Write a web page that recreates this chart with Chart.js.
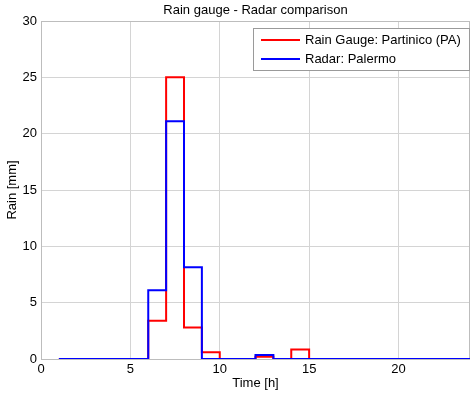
<!DOCTYPE html>
<html>
<head>
<meta charset="utf-8">
<script src="https://cdn.jsdelivr.net/npm/chart.js@4"></script>
<style>
  html, body { margin: 0; padding: 0; background: #fff; }
  #wrap { width: 473px; height: 396px; }
</style>
</head>
<body>
<div id="wrap"><canvas id="chart" width="473" height="396"></canvas></div>
<script>
const hours = [1, 2, 3, 4, 5, 6, 7, 8, 9, 10, 11, 12, 13, 14, 15, 16, 17, 18, 19, 20, 21, 22, 23, 24];
const gaugeMm = [0, 0, 0, 0, 0, 3.4, 25, 2.8, 0.6, 0, 0, 0.2, 0, 0.85, 0, 0, 0, 0, 0, 0, 0, 0, 0, 0];
const radarMm = [0, 0, 0, 0, 0, 6.1, 21.1, 8.15, 0, 0, 0, 0.35, 0, 0, 0, 0, 0, 0, 0, 0, 0, 0, 0, 0];
const xTicks = [0, 5, 10, 15, 20];
const yTicks = [0, 5, 10, 15, 20, 25, 30];
const chartTitle = 'Rain gauge - Radar comparison';

const FONT = 'Liberation Sans, Arial, sans-serif';

// matlab-style box, title over the axes and legend inside them
const boxLegend = {
  id: 'boxLegend',
  beforeDatasetsDraw(chart) {
    const a = chart.chartArea, ctx = chart.ctx;
    ctx.save();
    ctx.strokeStyle = '#bdbdbd';
    ctx.lineWidth = 1;
    ctx.strokeRect(Math.round(a.left) + 0.5, Math.round(a.top) + 0.5,
      Math.round(a.right - a.left) - 1, Math.round(a.bottom - a.top));
    ctx.fillStyle = '#000';
    ctx.font = '13px ' + FONT;
    ctx.textAlign = 'center';
    ctx.textBaseline = 'middle';
    ctx.fillText(chartTitle, (a.left + a.right) / 2, 10);
    ctx.restore();
  },
  afterDraw(chart) {
    const ctx = chart.ctx;
    const ds = chart.data.datasets;
    const x0 = 253, y0 = 28, w = 216, h = 42;
    ctx.save();
    ctx.fillStyle = '#fff';
    ctx.fillRect(x0, y0, w, h);
    ctx.strokeStyle = '#9a9a9a';
    ctx.lineWidth = 1;
    ctx.strokeRect(x0 + 0.5, y0 + 0.5, w, h);
    ctx.font = '13px ' + FONT;
    ctx.textBaseline = 'middle';
    ds.forEach((d, i) => {
      const y = y0 + 12 + i * 19;
      ctx.strokeStyle = d.borderColor;
      ctx.lineWidth = 2;
      ctx.beginPath();
      ctx.moveTo(x0 + 8, y);
      ctx.lineTo(x0 + 47, y);
      ctx.stroke();
      ctx.fillStyle = '#000';
      ctx.fillText(d.label, x0 + 52, y);
    });
    ctx.restore();
  }
};

new Chart(document.getElementById('chart'), {
  type: 'line',
  data: {
    datasets: [
      {
        label: 'Rain Gauge: Partinico (PA)',
        data: hours.map((h, i) => ({ x: h, y: gaugeMm[i] })),
        borderColor: '#ff0000',
        borderWidth: 2,
        stepped: 'before',
        pointRadius: 0,
        fill: false,
        order: 1
      },
      {
        label: 'Radar: Palermo',
        data: hours.map((h, i) => ({ x: h, y: radarMm[i] })),
        borderColor: '#0000ff',
        borderWidth: 2,
        stepped: 'before',
        pointRadius: 0,
        fill: false,
        order: 0
      }
    ]
  },
  options: {
    responsive: false,
    animation: false,
    layout: { padding: { left: 0, right: 3, top: 21, bottom: 0 } },
    plugins: {
      legend: { display: false },
      tooltip: { enabled: false },
      title: { display: false }
    },
    scales: {
      x: {
        type: 'linear',
        min: 0,
        max: 24,
        afterBuildTicks: s => { s.ticks = xTicks.map(v => ({ value: v })); },
        afterFit: s => { s.height = 37; },
        grid: { color: '#d4d4d4', drawTicks: false },
        border: { display: false },
        ticks: { color: '#000', padding: 3, maxRotation: 0, font: { family: FONT, size: 13 } },
        title: { display: true, text: 'Time [h]', color: '#000', padding: { top: 5, bottom: 5 }, font: { family: FONT, size: 13 } }
      },
      y: {
        min: 0,
        max: 30,
        afterBuildTicks: s => { s.ticks = yTicks.map(v => ({ value: v })); },
        afterFit: s => { s.width = 41; },
        grid: { color: '#d4d4d4', drawTicks: false },
        border: { display: false },
        ticks: { color: '#000', padding: 4, font: { family: FONT, size: 13 } },
        title: { display: true, text: 'Rain [mm]', color: '#000', padding: { top: 5, bottom: 5 }, font: { family: FONT, size: 13 } }
      }
    }
  },
  plugins: [boxLegend]
});
</script>
</body>
</html>
